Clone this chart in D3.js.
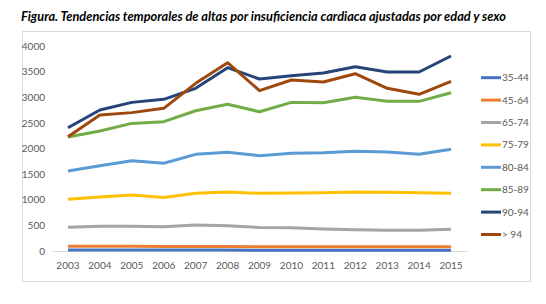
<!DOCTYPE html>
<html>
<head>
<meta charset="utf-8">
<script src="https://cdn.jsdelivr.net/npm/d3@7"></script>
<style>
  body { margin: 0; background: #fff; }
</style>
</head>
<body>
<div id="chart"></div>
<script>
// Data
const years = ["2003","2004","2005","2006","2007","2008","2009","2010","2011","2012","2013","2014","2015"];
const groups = ["35-44","45-64","65-74","75-79","80-84","85-89","90-94","> 94"];
const yTicks = [0, 500, 1000, 1500, 2000, 2500, 3000, 3500, 4000];

const s35_44 = [18, 18, 18, 18, 18, 18, 16, 16, 16, 16, 16, 16, 16];
const s45_64 = [92, 92, 92, 90, 90, 88, 84, 84, 84, 84, 82, 82, 82];
const s65_74 = [465, 482, 482, 475, 505, 494, 458, 455, 430, 416, 405, 405, 423];
const s75_79 = [1010, 1053, 1092, 1045, 1125, 1150, 1125, 1131, 1138, 1151, 1145, 1138, 1125];
const s80_84 = [1561, 1665, 1762, 1711, 1886, 1925, 1860, 1905, 1918, 1945, 1931, 1886, 1984];
const s85_89 = [2225, 2340, 2490, 2523, 2737, 2862, 2718, 2900, 2894, 2999, 2920, 2920, 3089];
const s90_94 = [2406, 2751, 2900, 2960, 3174, 3577, 3356, 3420, 3473, 3597, 3493, 3493, 3805];
const s95 = [2230, 2653, 2700, 2784, 3271, 3674, 3128, 3336, 3297, 3460, 3174, 3057, 3311];

const seriesValues = [s35_44, s45_64, s65_74, s75_79, s80_84, s85_89, s90_94, s95];
const colors = ["#4472C4","#ED7D31","#A5A5A5","#FFC000","#5B9BD5","#70AD47","#264478","#9E480E"];

function makeChart(containerSelector) {
    const width = 546, height = 304;
    const font = "'Liberation Sans Narrow', Lato, 'Open Sans', sans-serif";

    d3.select(containerSelector).html("");
    const svg = d3.select(containerSelector)
        .append("svg")
        .attr("width", width)
        .attr("height", height)
        .attr("viewBox", `0 0 ${width} ${height}`);

    // Title
    svg.append("text")
        .attr("x", 21)
        .attr("y", 21)
        .attr("textLength", 485)
        .attr("lengthAdjust", "spacingAndGlyphs")
        .style("font-family", "Lato, 'Open Sans', sans-serif")
        .style("font-weight", "bold")
        .style("font-style", "italic")
        .style("font-size", "13px")
        .attr("fill", "#000")
        .text("Figura. Tendencias temporales de altas por insuficiencia cardiaca ajustadas por edad y sexo");

    // Chart frame
    svg.append("rect")
        .attr("x", 22.5).attr("y", 31.5)
        .attr("width", 508).attr("height", 250)
        .attr("fill", "none")
        .attr("stroke", "#d9d9d9")
        .attr("stroke-width", 1);

    // Scales
    const xScale = d3.scaleBand().domain(years).range([52, 467]);
    const xc = d => xScale(d) + xScale.bandwidth() / 2;
    const yScale = d3.scaleLinear().domain([0, 4000]).range([251, 46]);

    // Y axis labels (no gridlines)
    const yAxis = svg.append("g")
        .attr("transform", "translate(45,0)")
        .call(d3.axisLeft(yScale).tickValues(yTicks).tickFormat(d3.format("d")).tickSize(0).tickPadding(0));
    yAxis.select(".domain").remove();
    yAxis.selectAll("text")
        .style("font-family", font)
        .style("font-size", "10px")
        .attr("fill", "#595959");

    // X axis
    const xAxis = svg.append("g")
        .attr("transform", "translate(0,251)")
        .call(d3.axisBottom(xScale).tickSize(0).tickPadding(11));
    xAxis.select(".domain").attr("stroke", "#d9d9d9").attr("stroke-width", 1);
    xAxis.selectAll("text")
        .style("font-family", font)
        .style("font-size", "10px")
        .attr("fill", "#595959");

    // Lines
    const line = d3.line()
        .x((d, i) => xc(years[i]))
        .y(d => yScale(d));

    seriesValues.forEach((vals, k) => {
        svg.append("path")
            .datum(vals)
            .attr("d", line)
            .attr("fill", "none")
            .attr("stroke", colors[k])
            .attr("stroke-width", 3)
            .attr("stroke-linejoin", "round");
    });

    // Legend
    const legend = svg.append("g");
    groups.forEach((g, k) => {
        const y = 77.7 + k * 22.4;
        legend.append("line")
            .attr("x1", 481).attr("x2", 501)
            .attr("y1", y).attr("y2", y)
            .attr("stroke", colors[k])
            .attr("stroke-width", 3);
        legend.append("text")
            .attr("x", 502)
            .attr("y", y)
            .attr("dy", "0.35em")
            .style("font-family", font)
            .style("font-size", "10px")
            .attr("fill", "#595959")
            .text(g);
    });

    return svg.node();
}

makeChart("#chart");
</script>
</body>
</html>
